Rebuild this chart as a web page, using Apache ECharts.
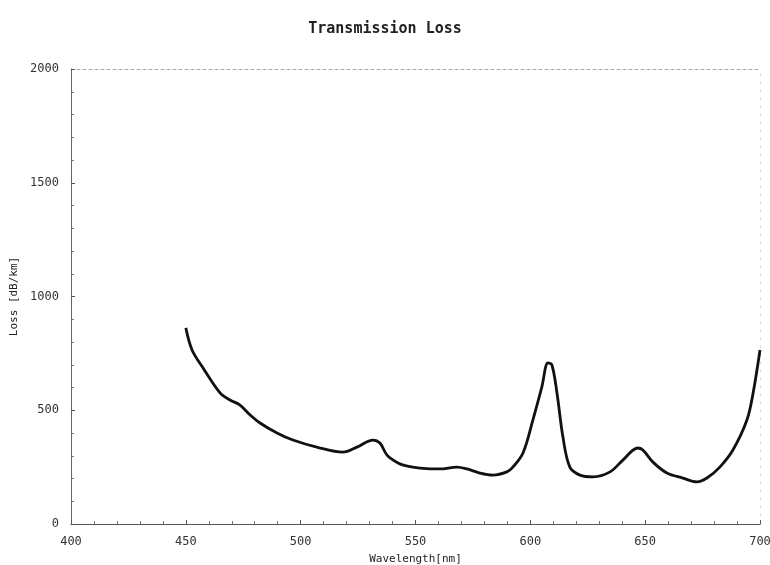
<!DOCTYPE html>
<html>
<head>
<meta charset="utf-8">
<script src="https://cdn.jsdelivr.net/npm/echarts@6/dist/echarts.min.js"></script>
<style>
  html, body { margin: 0; padding: 0; background: #fff; }
  #chart { width: 770px; height: 565px; }
</style>
</head>
<body>
<div id="chart"></div>
<script>
// Wavelength samples (nm) and measured transmission loss (dB/km)
const wavelength = [450, 452.7, 457.5, 464.9, 469.2, 473.6, 478, 482.3, 489.7, 496.6,
  507, 518.4, 524.5, 531.5, 534.5, 537.6, 542.4, 546, 551.9, 560.6,
  568, 572.4, 578, 583.7, 589.8, 592.4, 596.8, 601.1, 605,
  607.7, 609.4, 611.6, 614.2, 617.2, 621.6, 627.3, 634.7, 640.3, 646.8,
  649, 653.4, 659.5, 666.4, 672.5, 676.9, 682.5, 688.2, 694.3, 697, 700];
const loss = [862, 765, 686, 576, 545, 523, 479, 444, 400, 369,
  338, 316, 338, 369, 356, 303, 268, 255, 246, 242,
  250, 242, 224, 215, 229, 250, 312, 457, 602,
  708, 699, 576, 382, 250, 215, 207, 229, 281, 334,
  325, 272, 224, 202, 185, 202, 250, 325, 457, 576, 765];

const xTicks = [400, 450, 500, 550, 600, 650, 700];
const yTicks = [0, 500, 1000, 1500, 2000];

const labelFont = { fontFamily: 'DejaVu Sans Mono', fontSize: 12, color: '#333' };
const nameFont = { fontFamily: 'DejaVu Sans Mono', fontSize: 11, color: '#222' };

const chart = echarts.init(document.getElementById('chart'), null, { renderer: 'canvas' });
chart.setOption({
  animation: false,
  backgroundColor: '#fff',
  title: {
    text: 'Transmission Loss',
    left: 'center',
    top: 17,
    textStyle: { fontFamily: 'DejaVu Sans Mono', fontSize: 15, fontWeight: 'bold', color: '#222' }
  },
  grid: { left: 71, right: 10, top: 69, bottom: 41, outerBoundsMode: 'none', containLabel: false },
  xAxis: [{
    type: 'value',
    min: xTicks[0], max: xTicks[xTicks.length - 1], interval: 50,
    name: 'Wavelength[nm]',
    nameLocation: 'middle', nameGap: 30,
    nameTextStyle: nameFont,
    axisLine: { onZero: false, lineStyle: { color: '#555', width: 1.2 } },
    axisTick: { inside: true, length: 4, lineStyle: { color: '#555' } },
    minorTick: { show: true, splitNumber: 5, length: 3, lineStyle: { color: '#777' } },
    axisLabel: Object.assign({ margin: 12, formatter: v => String(v) }, labelFont),
    splitLine: { show: false }
  }, {
    type: 'value', position: 'top',
    min: xTicks[0], max: xTicks[xTicks.length - 1],
    axisLine: { show: true, onZero: false, lineStyle: { color: '#aaa', type: [3, 3], width: 1 } },
    axisTick: { show: false }, axisLabel: { show: false }, splitLine: { show: false }
  }],
  yAxis: [{
    type: 'value',
    min: yTicks[0], max: yTicks[yTicks.length - 1], interval: 500,
    name: 'Loss [dB/km]',
    nameLocation: 'middle', nameGap: 47,
    nameTextStyle: nameFont,
    axisLine: { show: true, onZero: false, lineStyle: { color: '#666', width: 1 } },
    axisTick: { show: true, inside: true, length: 4, lineStyle: { color: '#555' } },
    minorTick: { show: true, splitNumber: 5, length: 3, lineStyle: { color: '#777' } },
    axisLabel: Object.assign({ margin: 12, formatter: v => String(v) }, labelFont),
    splitLine: { show: false }
  }, {
    type: 'value', position: 'right',
    min: yTicks[0], max: yTicks[yTicks.length - 1],
    axisLine: { show: true, onZero: false, lineStyle: { color: '#ddd', type: [2, 6], width: 1 } },
    axisTick: { show: false }, axisLabel: { show: false }, splitLine: { show: false }
  }],
  series: [{
    type: 'line',
    data: wavelength.map((w, i) => [w, loss[i]]),
    smooth: 0.35,
    showSymbol: false,
    lineStyle: { color: '#111', width: 2.8 }
  }]
});
</script>
</body>
</html>
